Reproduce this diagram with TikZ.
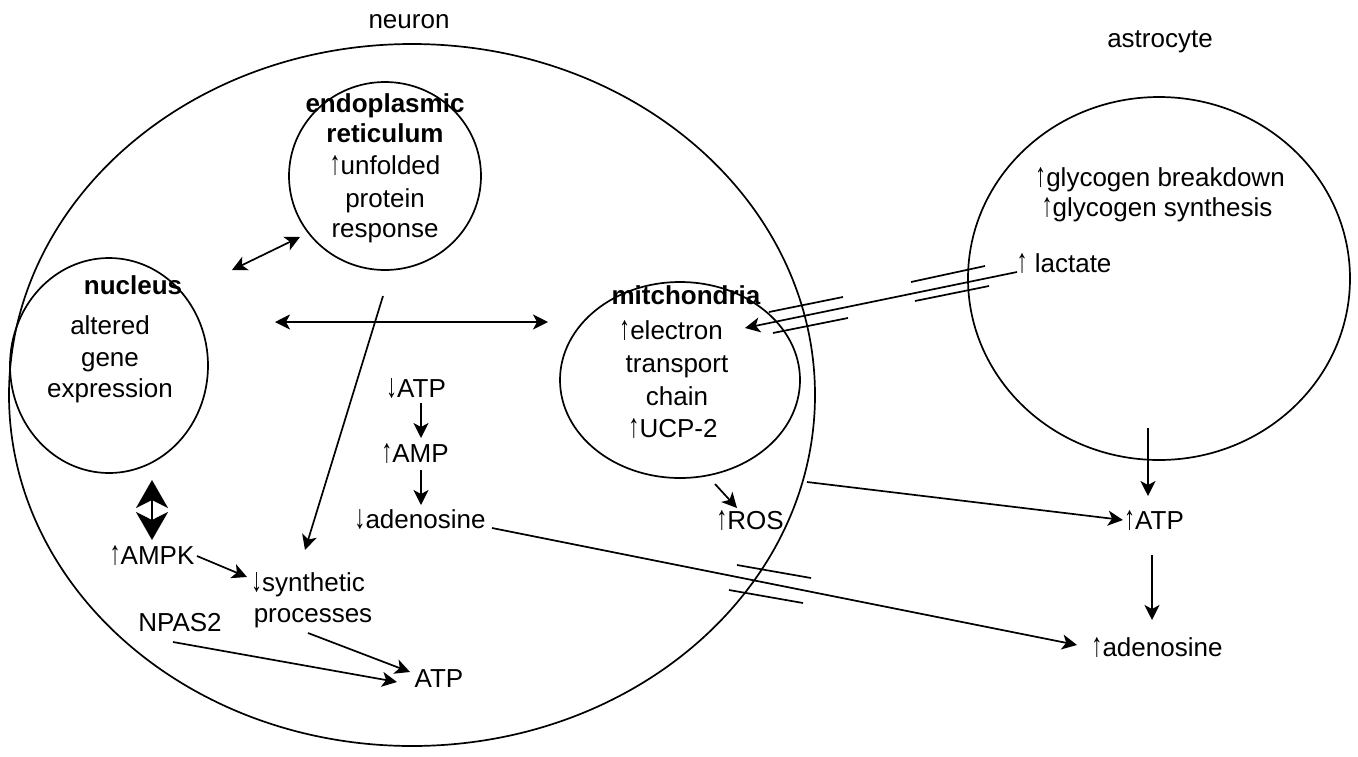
\documentclass[tikz,border=0pt]{standalone}
\usepackage{fontspec}
\setmainfont{Liberation Sans}
\usetikzlibrary{arrows.meta,shapes.geometric}
\newcommand\uarr{\scalebox{0.85}[1.3]{↑}}
\newcommand\darr{\scalebox{0.85}[1.3]{↓}}
\begin{document}
\begin{tikzpicture}[x=1pt,y=-1pt,line width=1.7pt,
  cell/.style={ellipse,draw,inner sep=0pt,line width=1.7pt},
  lbl/.style={anchor=base,inner sep=0pt,font=\fontsize{26}{31}\selectfont},
  blbl/.style={anchor=base,inner sep=0pt,font=\fontsize{26}{31}\selectfont\bfseries},
  arr/.style={-{Stealth[length=15pt,width=15pt,inset=4pt]}},
  dbarr/.style={{Stealth[length=15pt,width=15pt,inset=4pt]}-{Stealth[length=15pt,width=15pt,inset=4pt]}},
  bigdarr/.style={{Stealth[length=28pt,width=32pt,inset=8pt]}-{Stealth[length=28pt,width=32pt,inset=8pt]}},
  brk/.style={line width=1.7pt}]
\useasboundingbox (0,0) rectangle (1358,756);

% cells
\node[cell,minimum width=806pt,minimum height=702pt] (neuron) at (412,395) {};
\node[cell,minimum width=382pt,minimum height=363pt] (astro) at (1159,278.5) {};
\node[cell,minimum width=192pt,minimum height=188pt] (er) at (385,176) {};
\node[cell,minimum width=198pt,minimum height=215pt] (nuc) at (109,365.5) {};
\node[cell,minimum width=240pt,minimum height=196pt] (mito) at (680,380) {};

% titles
\node[lbl] (tneuron) at (409,28) {neuron};
\node[lbl] (tastro) at (1160,47) {astrocyte};

% ER text
\node[blbl] (er1) at (385,112) {endoplasmic};
\node[blbl] (er2) at (385,142) {reticulum};
\node[lbl] (er3) at (385,174) {\uarr unfolded};
\node[lbl] (er4) at (385,207) {protein};
\node[lbl] (er5) at (385,237) {response};

% nucleus text
\node[blbl] (nu1) at (133,294) {nucleus};
\node[lbl] (nu2) at (110,334) {altered};
\node[lbl] (nu3) at (110,366) {gene};
\node[lbl] (nu4) at (110,397) {expression};

% mitochondria text
\node[blbl] (mi1) at (686,304) {mitchondria};
\node[lbl] (mi2) at (671,339) {\uarr electron};
\node[lbl] (mi3) at (677,372) {transport};
\node[lbl] (mi4) at (677,405) {chain};
\node[lbl] (mi5) at (673,437) {\uarr UCP-2};

% neuron cytoplasm text
\node[lbl] (atpd) at (416,397) {\darr ATP};
\node[lbl] (ampu) at (415,462) {\uarr AMP};
\node[lbl] (adod) at (420,528) {\darr adenosine};
\node[lbl] (ampk) at (152,564) {\uarr AMPK};
\node[lbl] (syn1) at (308,591) {\darr synthetic};
\node[lbl] (syn2) at (313,622) {processes};
\node[lbl] (npas) at (180,631) {NPAS2};
\node[lbl] (atpn) at (439,687) {ATP};
\node[lbl] (ros) at (750,529) {\uarr ROS};

% astrocyte text
\node[lbl] (gly1) at (1160,186) {\uarr glycogen breakdown};
\node[lbl] (gly2) at (1157,216) {\uarr glycogen synthesis};
\node[lbl] (lac) at (1064,272) {\uarr{} lactate};
\node[lbl] (atpa) at (1154,529) {\uarr ATP};
\node[lbl] (adoa) at (1157,656) {\uarr adenosine};

% connector end points
\coordinate (en1) at (232,270);
\coordinate (en2) at (300,237);
\coordinate (nm1) at (275,322);
\coordinate (nm2) at (548,322);
\coordinate (es1) at (383,296);
\coordinate (es2) at (305,550);
\coordinate (aa1) at (421,403);
\coordinate (aa2) at (421,438);
\coordinate (ab1) at (421,470);
\coordinate (ab2) at (421,505);
\coordinate (mr1) at (715,484);
\coordinate (mr2) at (737,508);
\coordinate (ka) at (152,480);
\coordinate (kb) at (152,540);
\coordinate (ks1) at (197,556);
\coordinate (ks2) at (247,577);
\coordinate (na1) at (173,642);
\coordinate (na2) at (397,682);
\coordinate (pa1) at (308,633);
\coordinate (pa2) at (410,672);
\coordinate (ma1) at (807,482);
\coordinate (ma2) at (1123,520);
\coordinate (ad1) at (492,528);
\coordinate (ad2) at (1077,645);
\coordinate (la1) at (1017,272);
\coordinate (la2) at (745,328);
\coordinate (gs1) at (1148,428);
\coordinate (gs2) at (1148,496);
\coordinate (aa3) at (1152,555);
\coordinate (aa4) at (1152,620);

% connectors
\draw[dbarr] (en1) -- (en2);
\draw[dbarr] (nm1) -- (nm2);
\draw[arr] (es1) -- (es2);
\draw[arr] (aa1) -- (aa2);
\draw[arr] (ab1) -- (ab2);
\draw[arr] (mr1) -- (mr2);
\draw[bigdarr] (ka) -- (kb);
\draw[arr] (ks1) -- (ks2);
\draw[arr] (na1) -- (na2);
\draw[arr] (pa1) -- (pa2);
\draw[arr] (ma1) -- (ma2);
\draw[arr] (ad1) -- (ad2);
\draw[arr] (la1) -- (la2);
\draw[arr] (gs1) -- (gs2);
\draw[arr] (aa3) -- (aa4);

% membrane crossing marks
\draw[brk] (769,312) -- (843,297);
\draw[brk] (773,333) -- (848,318);
\draw[brk] (911,282) -- (985,266);
\draw[brk] (915,301) -- (989,286);
\draw[brk] (737,565) -- (811,578);
\draw[brk] (729,590) -- (803,603);
\end{tikzpicture}
\end{document}
